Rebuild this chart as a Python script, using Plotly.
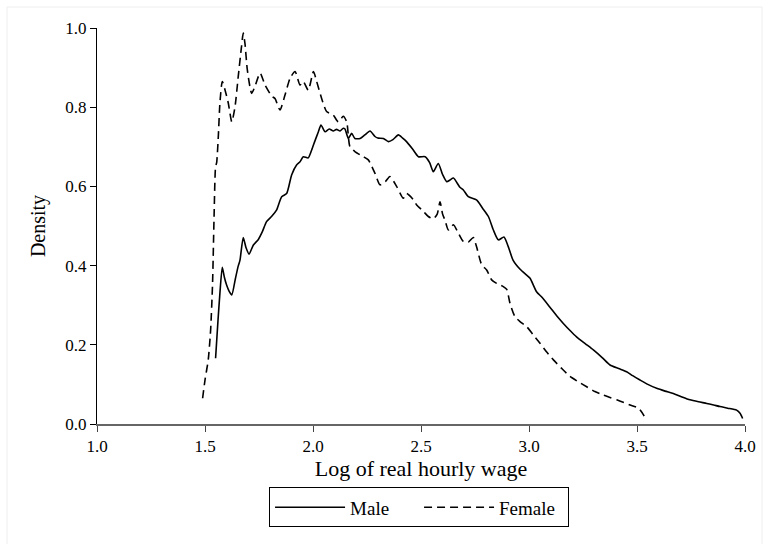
import plotly.graph_objects as go

# Kernel density of log real hourly wage, by sex
male_x = [1.549, 1.560, 1.569, 1.580, 1.590, 1.600, 1.612, 1.624, 1.640, 1.652, 1.662, 1.677,
          1.690, 1.704, 1.724, 1.747, 1.765, 1.785, 1.810, 1.831, 1.855, 1.878, 1.901, 1.924,
          1.940, 1.955, 1.978, 1.994, 2.009, 2.025, 2.037, 2.056, 2.075, 2.094, 2.109, 2.125,
          2.140, 2.148, 2.164, 2.179, 2.194, 2.218, 2.240, 2.264, 2.287, 2.300, 2.326, 2.349,
          2.370, 2.395, 2.415, 2.433, 2.460, 2.488, 2.519, 2.540, 2.557, 2.580, 2.600, 2.619,
          2.634, 2.650, 2.680, 2.696, 2.719, 2.757, 2.785, 2.812, 2.835, 2.858, 2.884, 2.904,
          2.926, 2.960, 2.989, 3.005, 3.035, 3.060, 3.097, 3.130, 3.159, 3.190, 3.220, 3.260,
          3.298, 3.340, 3.375, 3.415, 3.452, 3.480, 3.514, 3.550, 3.591, 3.630, 3.668, 3.705,
          3.745, 3.785, 3.823, 3.855, 3.884, 3.920, 3.961, 3.977, 3.989]
male_y = [0.166, 0.260, 0.330, 0.396, 0.370, 0.351, 0.335, 0.326, 0.365, 0.395, 0.414, 0.471,
          0.445, 0.429, 0.452, 0.466, 0.485, 0.511, 0.525, 0.540, 0.574, 0.582, 0.629, 0.654,
          0.662, 0.675, 0.672, 0.692, 0.715, 0.738, 0.755, 0.738, 0.745, 0.740, 0.744, 0.740,
          0.747, 0.745, 0.721, 0.734, 0.721, 0.721, 0.730, 0.740, 0.726, 0.722, 0.721, 0.713,
          0.718, 0.730, 0.722, 0.713, 0.695, 0.675, 0.675, 0.660, 0.637, 0.658, 0.630, 0.612,
          0.616, 0.621, 0.598, 0.591, 0.574, 0.566, 0.545, 0.524, 0.490, 0.465, 0.472, 0.448,
          0.414, 0.390, 0.376, 0.368, 0.334, 0.320, 0.295, 0.272, 0.254, 0.236, 0.220, 0.203,
          0.187, 0.167, 0.149, 0.140, 0.132, 0.122, 0.111, 0.100, 0.090, 0.083, 0.077, 0.069,
          0.061, 0.056, 0.052, 0.048, 0.044, 0.040, 0.035, 0.027, 0.014]

female_x = [1.489, 1.500, 1.515, 1.526, 1.535, 1.542, 1.549, 1.554, 1.562, 1.569, 1.580, 1.593,
            1.608, 1.624, 1.639, 1.654, 1.669, 1.677, 1.685, 1.696, 1.716, 1.731, 1.755, 1.778,
            1.809, 1.824, 1.847, 1.870, 1.894, 1.917, 1.940, 1.955, 1.978, 2.002, 2.017, 2.040,
            2.063, 2.094, 2.117, 2.140, 2.156, 2.171, 2.194, 2.233, 2.256, 2.287, 2.310, 2.335,
            2.356, 2.387, 2.418, 2.433, 2.465, 2.480, 2.511, 2.534, 2.557, 2.575, 2.588, 2.600,
            2.611, 2.627, 2.650, 2.673, 2.696, 2.719, 2.742, 2.757, 2.781, 2.804, 2.827, 2.850,
            2.881, 2.897, 2.912, 2.935, 2.960, 2.989, 3.020, 3.051, 3.080, 3.113, 3.150, 3.190,
            3.230, 3.267, 3.305, 3.344, 3.375, 3.406, 3.440, 3.468, 3.507, 3.530, 3.537]
female_y = [0.065, 0.111, 0.162, 0.237, 0.355, 0.524, 0.650, 0.660, 0.730, 0.810, 0.865, 0.843,
            0.810, 0.763, 0.801, 0.878, 0.953, 0.987, 0.961, 0.894, 0.835, 0.852, 0.886, 0.856,
            0.828, 0.822, 0.793, 0.830, 0.873, 0.890, 0.856, 0.865, 0.843, 0.890, 0.865, 0.822,
            0.789, 0.780, 0.763, 0.777, 0.763, 0.700, 0.688, 0.675, 0.667, 0.633, 0.604, 0.612,
            0.625, 0.600, 0.570, 0.582, 0.566, 0.553, 0.537, 0.524, 0.518, 0.530, 0.561, 0.530,
            0.515, 0.490, 0.503, 0.482, 0.461, 0.459, 0.471, 0.448, 0.402, 0.389, 0.364, 0.355,
            0.347, 0.340, 0.305, 0.271, 0.258, 0.246, 0.225, 0.204, 0.183, 0.162, 0.141, 0.120,
            0.106, 0.094, 0.082, 0.073, 0.067, 0.061, 0.054, 0.048, 0.040, 0.023, 0.015]

x_ticks = [1.0, 1.5, 2.0, 2.5, 3.0, 3.5, 4.0]
y_ticks = [0.0, 0.2, 0.4, 0.6, 0.8, 1.0]

SERIF = "Liberation Serif, Times New Roman, serif"

fig = go.Figure()
fig.add_trace(go.Scatter(x=male_x, y=male_y, mode="lines", name="Male",
                         line=dict(color="black", width=1.6, shape="spline", smoothing=0.6)))
fig.add_trace(go.Scatter(x=female_x, y=female_y, mode="lines", name="Female",
                         line=dict(color="black", width=1.6, dash="8px,5px",
                                   shape="spline", smoothing=0.6)))

fig.update_layout(
    width=764, height=544,
    margin=dict(l=97, r=19, t=28, b=120),
    paper_bgcolor="white", plot_bgcolor="white",
    font=dict(family=SERIF, color="black", size=17),
    showlegend=True,
    legend=dict(orientation="h", x=0.497, xanchor="center", y=-0.16, yanchor="top",
                bordercolor="black", borderwidth=1, bgcolor="white",
                font=dict(family=SERIF, size=19), itemwidth=70,
                entrywidth=64, traceorder="normal"),
    xaxis=dict(range=[1, 4], tickvals=x_ticks, ticktext=[f"{v:.1f}" for v in x_ticks],
               showgrid=False, zeroline=False, showline=True, linecolor="#666666",
               linewidth=2, ticks="outside", ticklen=6, tickcolor="#444444",
               automargin=False,
               tickfont=dict(family=SERIF, size=17),
               title=dict(text="Log of real hourly wage", font=dict(family=SERIF, size=22),
                          standoff=1)),
    yaxis=dict(range=[0, 1], tickvals=y_ticks, ticktext=[f"{v:.1f}" for v in y_ticks],
               showgrid=False, zeroline=False, showline=True, linecolor="black",
               linewidth=1, ticks="outside", ticklen=6, tickcolor="black",
               automargin=False,
               tickfont=dict(family=SERIF, size=17),
               title=dict(text="Density", font=dict(family=SERIF, size=20), standoff=14)),
    shapes=[dict(type="rect", xref="paper", yref="paper",
                 x0=(7 - 97) / 648, x1=(762 - 97) / 648,
                 y0=(424 - 560) / 396, y1=(424 - 7) / 396,
                 line=dict(color="#eeeeee", width=1), fillcolor="rgba(0,0,0,0)",
                 layer="below")],
)

fig.write_html("out.html")
